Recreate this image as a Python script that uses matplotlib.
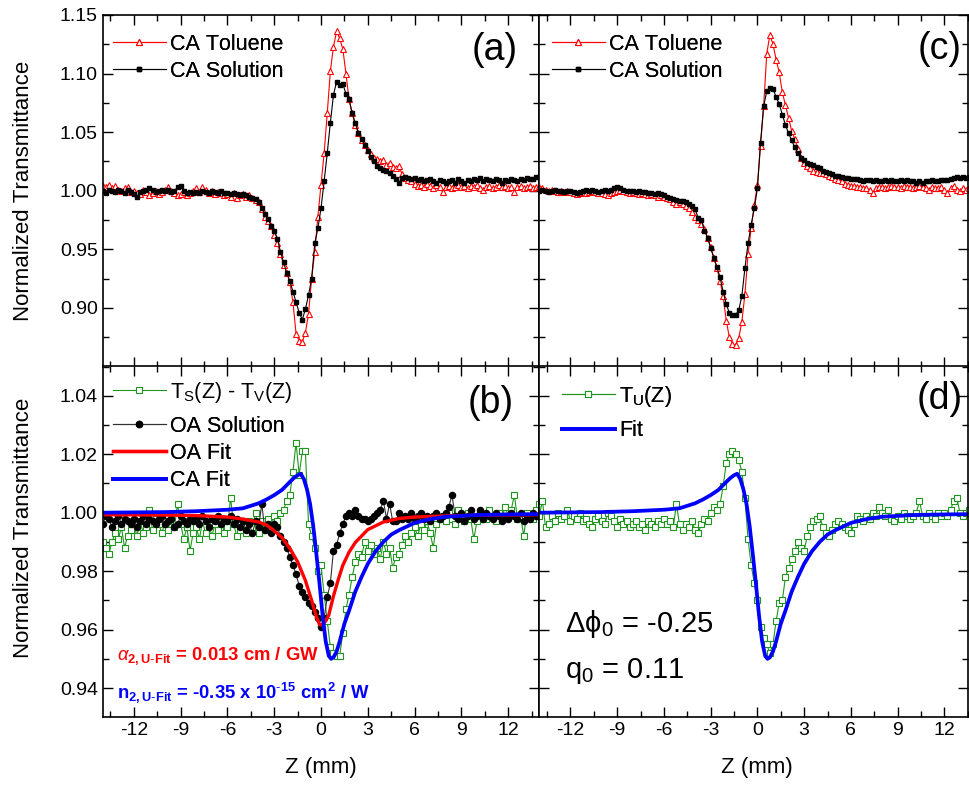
import matplotlib
matplotlib.use('Agg')
import matplotlib.pyplot as plt
import numpy as np

plt.rcParams['font.family'] = ['Liberation Sans', 'DejaVu Sans']
plt.rcParams['mathtext.fontset'] = 'custom'
plt.rcParams['mathtext.rm'] = 'Liberation Sans'
plt.rcParams['mathtext.it'] = 'Liberation Sans:italic'
plt.rcParams['mathtext.bf'] = 'Liberation Sans:bold'
plt.rcParams['axes.unicode_minus'] = False
plt.rcParams['text.kerning_factor'] = 6

# scan positions (mm), 0.2 mm steps
z = np.linspace(-14, 14, 141)

# (a) closed aperture, raw
tol_a = [1.004, 1.003, 1.005, 1.002, 1.004, 1.001, 1.000, 1.002, 1.003, 0.999,
         1.000, 0.998, 0.997, 1.001, 0.999, 0.996, 0.998, 1.000, 0.997, 0.999,
         1.001, 1.003, 1.000, 0.998, 0.996, 0.997, 0.999, 0.996, 0.998, 1.000,
         1.002, 0.999, 1.003, 1.001, 0.998, 1.000, 0.997, 0.999, 0.998, 0.996,
         0.997, 0.995, 0.998, 0.994, 0.996, 0.997, 0.995, 0.996, 0.994, 0.992,
         0.990, 0.984, 0.978, 0.974, 0.970, 0.962, 0.955, 0.946, 0.937, 0.930,
         0.922, 0.905, 0.878, 0.872, 0.871, 0.879, 0.895, 0.925, 0.948, 0.978,
         1.005, 1.032, 1.066, 1.102, 1.123, 1.136, 1.130, 1.121, 1.100, 1.078,
         1.066, 1.056, 1.049, 1.043, 1.039, 1.035, 1.031, 1.028, 1.027, 1.025,
         1.026, 1.022, 1.024, 1.020, 1.019, 1.021, 1.014, 1.011, 1.009, 1.008,
         1.006, 1.004, 1.005, 1.003, 1.006, 1.004, 1.002, 1.005, 1.003, 0.999,
         1.003, 1.004, 1.002, 1.003, 1.005, 1.003, 1.004, 1.002, 1.004, 1.003,
         1.005, 1.002, 1.001, 1.003, 1.004, 1.002, 1.003, 1.005, 1.003, 1.004,
         1.002, 1.003, 0.999, 1.003, 1.004, 1.002, 1.003, 1.004, 1.002, 1.003,
         1.004]
sol_a = [1.000, 0.998, 1.001, 1.000, 0.999, 1.001, 1.000, 0.998, 1.001, 0.999,
         0.997, 0.995, 0.999, 1.000, 1.001, 1.002, 1.001, 0.999, 1.000, 1.001,
         1.000, 1.001, 0.999, 1.000, 1.003, 1.004, 1.000, 0.998, 0.999, 0.998,
         0.999, 0.998, 1.000, 0.999, 0.998, 1.000, 0.999, 0.998, 1.000, 0.998,
         0.998, 0.997, 0.998, 0.997, 0.996, 0.997, 0.996, 0.995, 0.994, 0.993,
         0.990, 0.985, 0.980, 0.976, 0.970, 0.966, 0.959, 0.948, 0.939, 0.930,
         0.923, 0.914, 0.905, 0.896, 0.890, 0.899, 0.911, 0.925, 0.955, 0.968,
         0.985, 1.008, 1.032, 1.058, 1.082, 1.093, 1.090, 1.091, 1.083, 1.078,
         1.066, 1.058, 1.049, 1.044, 1.039, 1.034, 1.029, 1.025, 1.021, 1.019,
         1.018, 1.017, 1.015, 1.013, 1.010, 1.007, 1.011, 1.012, 1.011, 1.010,
         1.011, 1.009, 1.010, 1.008, 1.009, 1.010, 1.008, 1.007, 1.009, 1.008,
         1.007, 1.008, 1.009, 1.007, 1.010, 1.008, 1.007, 1.009, 1.008, 1.010,
         1.009, 1.011, 1.008, 1.010, 1.009, 1.008, 1.010, 1.009, 1.007, 1.009,
         1.008, 1.010, 1.009, 1.008, 1.010, 1.009, 1.011, 1.010, 1.010, 1.012,
         1.012]

# (c) closed aperture, smoothed
tol_c = [1.003, 1.002, 1.001, 1.000, 1.001, 1.000, 0.999, 1.000, 0.999, 1.000,
         0.999, 0.998, 0.997, 0.998, 0.999, 0.998, 0.999, 1.000, 0.999, 0.998,
         0.998, 0.997, 0.996, 0.998, 0.999, 1.000, 1.001, 1.000, 0.999, 0.998,
         0.999, 0.998, 0.997, 0.998, 0.997, 0.996, 0.997, 0.996, 0.995, 0.996,
         0.995, 0.994, 0.993, 0.990, 0.989, 0.990, 0.989, 0.987, 0.985, 0.982,
         0.978, 0.975, 0.972, 0.967, 0.960, 0.952, 0.943, 0.934, 0.923, 0.910,
         0.889, 0.875, 0.869, 0.868, 0.874, 0.888, 0.912, 0.946, 0.968, 0.988,
         1.005, 1.038, 1.072, 1.117, 1.133, 1.125, 1.112, 1.101, 1.084, 1.073,
         1.062, 1.051, 1.044, 1.036, 1.028, 1.024, 1.021, 1.019, 1.017, 1.016,
         1.015, 1.015, 1.014, 1.013, 1.012, 1.010, 1.009, 1.008, 1.006, 1.005,
         1.004, 1.004, 1.003, 1.003, 1.002, 1.002, 1.001, 0.998, 1.002, 1.003,
         1.003, 1.002, 1.003, 1.004, 1.003, 1.003, 1.002, 1.004, 1.003, 1.003,
         1.002, 1.003, 1.004, 1.003, 1.002, 1.001, 1.003, 1.002, 1.002, 1.003,
         1.001, 0.998, 1.002, 1.004, 1.001, 1.000, 1.002, 1.001, 1.002, 1.001,
         1.001]
sol_c = [1.000, 1.001, 1.000, 0.999, 1.000, 1.001, 1.000, 1.000, 0.999, 1.000,
         1.000, 0.999, 0.998, 0.999, 1.000, 1.001, 1.000, 1.001, 1.000, 0.999,
         1.000, 1.001, 1.000, 1.001, 1.002, 1.003, 1.002, 1.001, 1.000, 1.000,
         1.000, 0.999, 1.000, 0.999, 0.999, 0.998, 0.998, 0.997, 0.998, 0.997,
         0.996, 0.995, 0.994, 0.993, 0.992, 0.991, 0.991, 0.990, 0.989, 0.987,
         0.984, 0.977, 0.975, 0.966, 0.960, 0.951, 0.943, 0.935, 0.926, 0.914,
         0.903, 0.896, 0.894, 0.894, 0.898, 0.910, 0.934, 0.955, 0.971, 0.985,
         1.002, 1.041, 1.072, 1.085, 1.088, 1.087, 1.080, 1.074, 1.065, 1.056,
         1.049, 1.043, 1.037, 1.032, 1.028, 1.026, 1.024, 1.023, 1.022, 1.020,
         1.019, 1.017, 1.016, 1.015, 1.014, 1.013, 1.013, 1.012, 1.011, 1.011,
         1.010, 1.010, 1.010, 1.009, 1.008, 1.009, 1.009, 1.008, 1.009, 1.008,
         1.008, 1.009, 1.008, 1.009, 1.008, 1.008, 1.009, 1.008, 1.009, 1.008,
         1.008, 1.007, 1.008, 1.007, 1.008, 1.008, 1.009, 1.008, 1.008, 1.009,
         1.009, 1.009, 1.010, 1.011, 1.012, 1.011, 1.012, 1.011, 1.012, 1.012,
         1.012]

# (b) difference and open aperture
diff_b = [0.990, 0.988, 0.986, 0.990, 0.993, 0.991, 0.995, 0.988, 0.992, 0.994,
          0.996, 0.992, 0.997, 0.993, 0.995, 1.001, 0.994, 0.998, 0.996, 0.993,
          0.997, 0.994, 0.999, 0.995, 1.003, 0.996, 0.991, 0.995, 0.987, 0.993,
          0.995, 0.991, 0.997, 0.993, 0.996, 0.992, 0.996, 0.994, 0.998, 0.993,
          0.995, 1.005, 0.996, 0.992, 0.994, 0.996, 0.993, 0.997, 0.995, 1.000,
          0.993, 0.997, 0.994, 0.998, 0.995, 0.999, 0.997, 1.000, 1.001, 1.004,
          1.006, 1.014, 1.024, 1.013, 1.021, 1.021, 0.996, 0.992, 0.988, 0.980,
          0.982, 0.972, 0.963, 0.954, 0.952, 0.951, 0.951, 0.959, 0.967, 0.972,
          0.978, 0.983, 0.986, 0.985, 0.990, 0.987, 0.989, 0.986, 0.988, 0.984,
          0.990, 0.986, 0.988, 0.981, 0.985, 0.986, 0.989, 0.992, 0.990, 0.993,
          0.995, 0.992, 0.996, 0.994, 0.997, 0.993, 0.988, 0.996, 0.998, 0.999,
          0.997, 1.000, 0.998, 0.996, 1.001, 0.999, 0.997, 1.000, 0.998, 0.991,
          0.997, 1.000, 0.998, 0.998, 1.001, 0.999, 0.997, 1.000, 0.998, 1.002,
          0.999, 1.001, 1.006, 0.998, 0.999, 0.992, 1.000, 0.999, 0.998, 1.001,
          1.003]
oa_b = [0.996, 0.999, 0.998, 0.995, 0.997, 0.999, 0.996, 0.998, 0.997, 0.996,
        0.998, 0.995, 0.997, 0.999, 0.996, 0.998, 0.997, 0.996, 0.998, 0.999,
        0.996, 0.997, 0.998, 0.995, 0.996, 0.999, 0.997, 0.996, 0.998, 0.997,
        0.998, 0.996, 0.999, 0.997, 0.995, 0.998, 0.997, 0.999, 0.996, 0.998,
        0.997, 0.999, 0.996, 0.998, 0.995, 0.997, 0.994, 0.996, 0.993, 0.997,
        0.995, 1.003, 0.994, 0.996, 0.993, 0.996, 0.995, 0.992, 0.990, 0.988,
        0.985, 0.982, 0.979, 0.975, 0.973, 0.971, 0.969, 0.968, 0.966, 0.964,
        0.961, 0.964, 0.971, 0.976, 0.987, 0.989, 0.993, 0.996, 0.999, 1.000,
        0.999, 1.001, 0.999, 0.998, 0.998, 0.997, 0.998, 0.999, 1.000, 1.001,
        1.004, 0.998, 1.003, 0.997, 0.997, 1.000, 0.998, 0.999, 0.998, 1.000,
        0.998, 0.999, 1.000, 0.998, 0.999, 0.997, 0.999, 1.000, 0.998, 0.999,
        1.000, 1.002, 1.006, 0.999, 0.998, 1.000, 0.997, 0.999, 1.001, 0.998,
        0.999, 1.001, 0.998, 1.000, 0.999, 0.998, 1.000, 0.999, 0.997, 0.999,
        0.998, 1.000, 0.999, 0.998, 1.000, 0.997, 0.999, 0.998, 1.000, 0.999,
        0.999]

# (d) unfolded closed aperture
tu_d = [0.999, 1.004, 0.995, 0.996, 0.999, 0.997, 1.000, 0.998, 0.999, 1.001,
        0.997, 0.999, 0.998, 1.000, 0.997, 0.998, 0.996, 0.995, 0.998, 0.999,
        0.997, 0.996, 1.000, 0.999, 0.997, 0.995, 0.998, 0.996, 0.997, 0.995,
        0.996, 0.997, 0.995, 0.996, 0.994, 0.997, 0.996, 0.995, 0.997, 0.996,
        0.998, 0.996, 0.997, 0.995, 1.003, 0.996, 0.994, 0.996, 0.995, 0.997,
        0.994, 0.993, 0.996, 0.998, 0.997, 1.000, 1.002, 1.001, 1.003, 1.009,
        1.017, 1.020, 1.021, 1.020, 1.018, 1.014, 1.005, 0.991, 0.982, 0.976,
        0.970, 0.961, 0.957, 0.955, 0.952, 0.955, 0.963, 0.969, 0.970, 0.978,
        0.981, 0.984, 0.987, 0.990, 0.988, 0.987, 0.992, 0.995, 0.997, 0.998,
        0.999, 0.995, 0.993, 0.992, 0.994, 0.996, 0.997, 0.996, 0.995, 0.994,
        0.993, 0.996, 0.999, 0.998, 0.997, 0.999, 0.998, 1.000, 0.999, 1.002,
        1.000, 0.999, 1.001, 0.998, 0.997, 0.999, 0.998, 1.000, 0.999, 0.998,
        0.999, 1.000, 1.004, 0.999, 0.998, 1.000, 0.999, 0.998, 1.000, 0.999,
        1.000, 0.999, 1.001, 1.004, 1.005, 1.000, 0.999, 1.000, 1.001, 1.000,
        1.000]

# fitted curves
ca_fit_z = [-14, -10, -8, -6, -5, -4, -3.5, -3, -2.5, -2, -1.75, -1.5, -1.3,
            -1.1, -0.9, -0.7, -0.5, -0.3, -0.1, 0.1, 0.3, 0.5, 0.65, 0.8, 1.0,
            1.2, 1.5, 1.8, 2.2, 2.6, 3.0, 3.5, 4.0, 4.5, 5.0, 6.0, 7.0, 8.0,
            10.0, 12.0, 14.0]
ca_fit = [1.0000, 1.0002, 1.0005, 1.0010, 1.0015, 1.0032, 1.0045, 1.0060,
          1.0078, 1.0105, 1.0118, 1.0128, 1.0133, 1.0115, 1.0080, 1.0030,
          0.9955, 0.9860, 0.9760, 0.9650, 0.9560, 0.9510, 0.9500, 0.9505,
          0.9525, 0.9560, 0.9620, 0.9665, 0.9730, 0.9780, 0.9825, 0.9868,
          0.9900, 0.9925, 0.9940, 0.9965, 0.9978, 0.9986, 0.9992, 0.9994,
          0.9995]
oa_fit_z = [-14, -10, -8, -6, -5, -4, -3.5, -3, -2.5, -2, -1.5, -1.0, -0.6,
            -0.3, -0.1, 0.1, 0.3, 0.5, 0.8, 1.1, 1.4, 1.8, 2.2, 2.6, 3.0, 3.5,
            4.0, 5.0, 6.0, 8.0, 10.0, 14.0]
oa_fit = [0.9993, 0.9992, 0.9990, 0.9985, 0.9978, 0.9968, 0.9958, 0.9938,
          0.9915, 0.9878, 0.9832, 0.9768, 0.9700, 0.9645, 0.9618, 0.9615,
          0.9630, 0.9650, 0.9715, 0.9770, 0.9820, 0.9865, 0.9898, 0.9920,
          0.9942, 0.9955, 0.9968, 0.9980, 0.9985, 0.9989, 0.9991, 0.9993]

green = '#1e961e'
W, H = 970, 785
fig = plt.figure(figsize=(9.7, 7.85), dpi=100)


def px_axes(x0, y0, x1, y1):
    return fig.add_axes([x0 / W, 1 - y1 / H, (x1 - x0) / W, (y1 - y0) / H])


def px_legend(ax, x, y, spacing, handles=None):
    if handles is None:
        handles = ax.get_lines()
    leg = ax.legend(handles=handles, loc='upper left',
                    bbox_to_anchor=(x / W, 1 - y / H),
                    bbox_transform=fig.transFigure, frameon=False,
                    fontsize=15.5, handlelength=2.45, handletextpad=0.2,
                    labelspacing=spacing, borderaxespad=0, borderpad=0)
    ax.add_artist(leg)
    return leg


ax_a = px_axes(102.7, 15, 539.3, 366.5)
ax_c = px_axes(539.3, 15, 968.5, 366.5)
ax_b = px_axes(102.7, 366.5, 539.3, 717.3)
ax_d = px_axes(539.3, 366.5, 968.5, 717.3)

for ax in (ax_a, ax_c, ax_b, ax_d):
    ax.set_xticks(np.arange(-12, 13, 3))
    ax.set_xticks(np.arange(-13.5, 14, 1.5), minor=True)
    ax.tick_params(which='both', direction='in', top=True, right=True,
                   labelsize=14, width=1)
    ax.tick_params(which='major', length=7)
    ax.tick_params(which='minor', length=4)
    for s in ax.spines.values():
        s.set_linewidth(1.2)

for ax in (ax_a, ax_c):
    ax.set_ylim(0.85, 1.15)
    ax.set_yticks([0.90, 0.95, 1.00, 1.05, 1.10, 1.15])
    ax.set_yticks(np.arange(0.875, 1.15, 0.05), minor=True)
    ax.tick_params(labelbottom=False)
for ax in (ax_b, ax_d):
    ax.set_ylim(0.93, 1.05)
    ax.set_yticks([0.94, 0.96, 0.98, 1.00, 1.02, 1.04])
    ax.set_yticks(np.arange(0.95, 1.05, 0.02), minor=True)
for ax in (ax_a, ax_b):
    ax.set_xlim(-14, 14)
for ax in (ax_c, ax_d):
    ax.set_xlim(-14, 13.55)
    ax.tick_params(labelleft=False)
ax_a.yaxis.set_major_formatter(matplotlib.ticker.FormatStrFormatter('%.2f'))
ax_b.yaxis.set_major_formatter(matplotlib.ticker.FormatStrFormatter('%.2f'))

tol_style = dict(color='red', lw=0.8, marker='^', ms=5, mfc='white',
                 mec='red', mew=0.8)
sol_style = dict(color='black', lw=0.8, marker='s', ms=3.4)

for ax, tol, sol in ((ax_a, tol_a, sol_a), (ax_c, tol_c, sol_c)):
    ax.plot(z, tol, label='CA Toluene', **tol_style)
    ax.plot(z, sol, label='CA Solution', **sol_style)
px_legend(ax_a, 113, 34, 0.28)
px_legend(ax_c, 552, 34, 0.28)

ax_b.plot(z, diff_b, color=green, lw=0.8, marker='s', ms=4, mfc='white',
          mec=green, mew=0.8,
          label=r'T$_\mathregular{S}$(Z) - T$_\mathregular{V}$(Z)')
ax_b.plot(z, oa_b, color='#333333', lw=0.8, marker='o', ms=4.4, mfc='black',
          mec='black', label='OA Solution')
ax_b.plot(oa_fit_z, oa_fit, color='red', lw=2.4, label='OA Fit')
ax_b.plot(ca_fit_z, ca_fit, color='blue', lw=2.7, label='CA Fit')
lines_b = ax_b.get_lines()
px_legend(ax_b, 113, 380, 0.28, lines_b[:1])
px_legend(ax_b, 113, 416, 0.28, lines_b[1:])

ax_d.plot(z, tu_d, color=green, lw=0.8, marker='s', ms=4, mfc='white',
          mec=green, mew=0.8, label=r'T$_\mathregular{U}$(Z)')
ax_d.plot(ca_fit_z, ca_fit, color='blue', lw=2.7, label='Fit')
px_legend(ax_d, 562, 384, 0.52)

for ax, lab, xc, yc in ((ax_a, '(a)', 495, 50), (ax_c, '(c)', 940, 49),
                        (ax_b, '(b)', 491, 403), (ax_d, '(d)', 940, 399)):
    ax.text(xc / W, 1 - yc / H, lab, transform=fig.transFigure, fontsize=27,
            ha='center', va='center')

ax_b.text(117 / W, 1 - 660 / H,
          r'$\alpha_{\mathbf{2,U}\text{-}\mathbf{Fit}}$ = 0.013 cm / GW',
          transform=fig.transFigure, color='red', fontsize=13.3,
          fontweight='bold', va='baseline')
ax_b.text(117 / W, 1 - 698 / H,
          r'n$_{\mathbf{2,U}\text{-}\mathbf{Fit}}$ = -0.35 x 10$^{\text{-}\mathbf{15}}$ cm$^\mathbf{2}$ / W',
          transform=fig.transFigure, color='blue', fontsize=13.3,
          fontweight='bold', va='baseline')
ax_d.text(565 / W, 1 - 632 / H, r'Δϕ$_\mathregular{0}$ = -0.25',
          transform=fig.transFigure, fontsize=21, va='baseline')
ax_d.text(565 / W, 1 - 678 / H, r'q$_\mathregular{0}$ = 0.11',
          transform=fig.transFigure, fontsize=21, va='baseline')

fig.text(24 / W, 1 - 191 / H, 'Normalized Transmittance', rotation=90,
         fontsize=16, ha='center', va='center')
fig.text(24 / W, 1 - 528 / H, 'Normalized Transmittance', rotation=90,
         fontsize=16, ha='center', va='center')
fig.text(321 / W, 1 - 767 / H, 'Z (mm)', fontsize=16, ha='center', va='center')
fig.text(757 / W, 1 - 767 / H, 'Z (mm)', fontsize=16, ha='center', va='center')

fig.savefig('out.png', dpi=100)
